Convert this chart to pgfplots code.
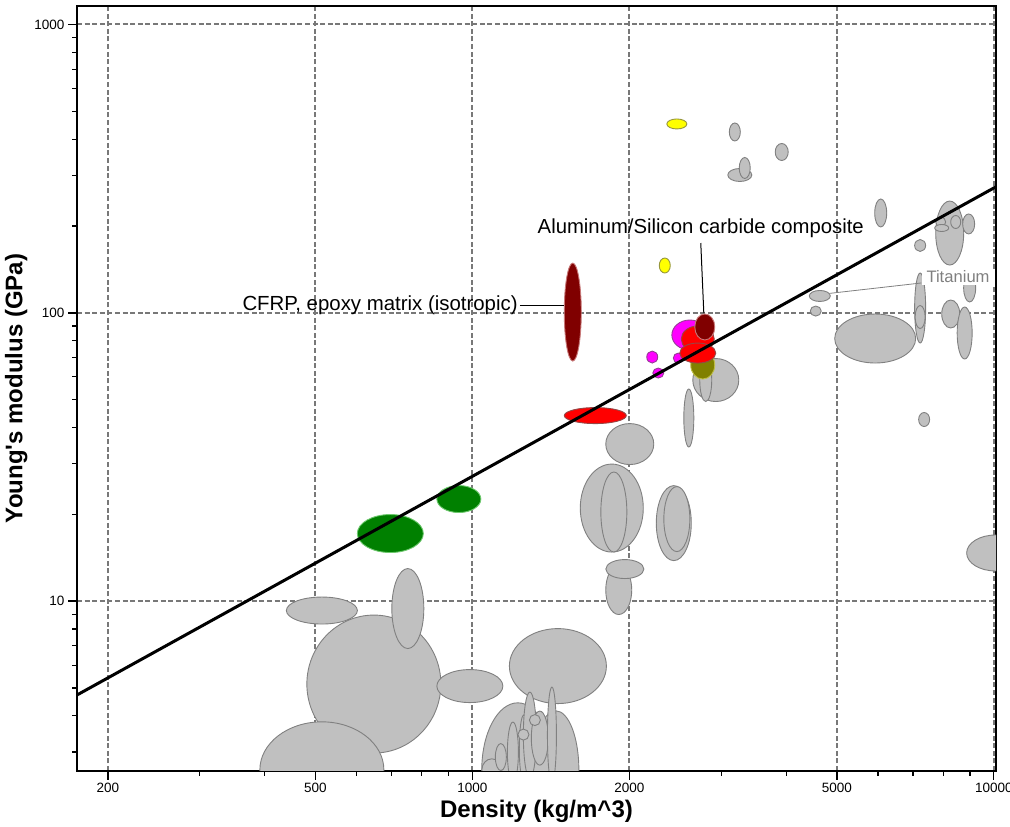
\documentclass[border=0pt]{standalone}
\usepackage{fontspec}
\setmainfont{Liberation Sans}
\usepackage{pgfplots}
\pgfplotsset{compat=1.18}
\definecolor{gfill}{RGB}{192,192,192}
\definecolor{gedge}{RGB}{128,128,128}
\definecolor{gridc}{RGB}{120,120,120}
\definecolor{redf}{RGB}{255,0,0}
\definecolor{rede}{RGB}{150,70,70}
\definecolor{magf}{RGB}{255,0,255}
\definecolor{mage}{RGB}{150,60,150}
\definecolor{darkredf}{RGB}{128,0,0}
\definecolor{darkrede}{RGB}{200,120,120}
\definecolor{greenf}{RGB}{0,128,0}
\definecolor{greene}{RGB}{110,200,110}
\definecolor{yelf}{RGB}{255,255,0}
\definecolor{yele}{RGB}{150,150,60}
\definecolor{olivef}{RGB}{128,128,0}
\definecolor{olivee}{RGB}{190,190,70}
\pgfdeclareplotmark{ellmark}{%
  \pgfpathellipse{\pgfpointorigin}{\pgfqpoint{\ellrx pt}{0pt}}{\pgfqpoint{0pt}{\ellry pt}}%
  \pgfusepathqfillstroke}
\pgfplotsset{ells/.style 2 args={scatter, only marks, mark=ellmark,
  visualization depends on={value \thisrow{rx}\as\ellrx},
  visualization depends on={value \thisrow{ry}\as\ellry},
  scatter/use mapped color={draw=#1, fill=#2},
  mark options={line width=0.9pt}}}
\begin{document}
\begin{tikzpicture}
\useasboundingbox (0,0) rectangle (1010pt,827pt);
\begin{axis}[
  at={(77pt,56pt)}, anchor=south west,
  scale only axis, width=919pt, height=765pt,
  xmode=log, ymode=log,
  xmin=174.5, xmax=10100, ymin=2.576, ymax=1159,
  clip marker paths=true,
  axis line style={line width=1.3pt},
  xtick={200,500,1000,2000,5000,10000},
  xticklabels={200,500,1000,2000,5000,10000},
  minor xtick={300,400,600,700,800,900,3000,4000,6000,7000,8000,9000},
  ytick={10,100,1000},
  yticklabels={10,100,1000},
  minor ytick={3,4,5,6,7,8,9,20,30,40,50,60,70,80,90,200,300,400,500,600,700,800,900},
  xtick pos=bottom, ytick pos=left, tick align=outside,
  major tick length=9pt, minor tick length=5pt,
  major tick style={line width=1.4pt, black},
  minor tick style={line width=1.2pt, black},
  xmajorgrids, ymajorgrids,
  major grid style={gridc, line width=2pt, dash pattern=on 5pt off 2.6pt},
  tick label style={font=\fontsize{13.5}{16}\selectfont},
  /pgf/number format/assume math mode=true,
  xlabel={Density (kg/m\textasciicircum 3)},
  ylabel={Young\textquotesingle s modulus (GPa)},
  label style={font=\fontsize{24}{28}\selectfont\bfseries},
]
% grey materials
\addplot[ells={gedge}{gfill}] table {
x y rx ry
647.3 5.157 67 69
514.5 2.60 62 48
514.5 9.278 35.5 13.5
752.1 9.426 16 40
989.0 5.075 33 16.5
1459 5.954 48.5 37.5
1222 2.60 36 67
1446 2.60 23 59
1090 2.60 10 11
1134 2.879 5.5 13.5
1196 2.997 5.5 30
1255 3.094 4.5 33
1289 3.432 6.5 43
1347 3.350 8.5 27
1421 3.432 4.5 48
1253 3.445 5.5 5.5
1318 3.869 5.5 5.5
1851 21.03 31.5 44
1868 20.38 13 40
2434 18.65 17.5 37.5
2467 19.26 13 32.5
1909 10.93 13 24.5
1961 12.92 19 9.5
2004 35.06 24 20.5
2601 43.17 5 29
2930 58.46 23 21.5
2803 58.46 6 21.5
5924 81.44 40.5 24.5
7354 42.65 5.5 7
10084 14.69 29 18
4638 114.4 10.5 5.5
4556 101.4 5.5 5
7225 103.9 5.5 35
7225 96.70 5 11.5
8269 99.05 9 14
8794 85.10 7.5 26
8990 121.9 6 14
8232 189.1 14 32
7912 206.5 5 5
7947 196.9 7 3.5
8453 206.5 5 6.5
8951 203.3 6 10
7225 171.2 5.5 6
6070 221.9 6 14
3187 423.8 5.5 9
3921 361.2 6.5 8.5
3258 300.6 12 6.5
3330 317.9 5.5 10.5
};
% yellow
\addplot[ells={yele}{yelf}] table {
x y rx ry
2467 451.8 10 5
2339 145.9 5.5 7.5
};
% magenta
\addplot[ells={mage}{magf}] table {
x y rx ry
2213 70.24 5.5 6
2273 61.82 5.5 5
2483 69.68 5 5
2613 83.75 18 15
};
% olive
\addplot[ells={olivee}{olivef}] table {
x y rx ry
2766 65.90 12 14
};
% red
\addplot[ells={rede}{redf}] table {
x y rx ry
1721 44.01 31 8
2706 81.12 16.5 13
2706 72.52 18 10
};
% dark red
\addplot[ells={darkrede}{darkredf}] table {
x y rx ry
1558 100.6 8.5 49
2791 89.30 10 13
};
% green
\addplot[ells={greene}{greenf}] table {
x y rx ry
696.1 17.16 33 19
942.1 22.60 22 13.5
};
% annotations
\draw[line width=1pt] (axis cs:1233,106.4) -- (axis cs:1497,106.4);
\node[anchor=east, inner sep=2pt, font=\fontsize{20.4}{24}\selectfont] at (axis cs:1233,106.4) {CFRP, epoxy matrix (isotropic)};
\draw[line width=1pt] (axis cs:2742,174.6) -- (axis cs:2779,99.84);
\node[font=\fontsize{20.3}{24}\selectfont] at (axis cs:2742,196.9) {Aluminum/Silicon carbide composite};
\draw[gedge, line width=0.8pt] (axis cs:4847,116.8) -- (axis cs:7263,126.9);
\node[anchor=west, fill=white, text=gedge, inner xsep=5pt, inner ysep=2pt, font=\fontsize{16.6}{19}\selectfont] at (axis cs:7263,133.1) {Titanium};
% E/rho line
\addplot[black, line width=3pt] coordinates {(170,4.605) (10300,279.0)};
\end{axis}
\end{tikzpicture}
\end{document}
